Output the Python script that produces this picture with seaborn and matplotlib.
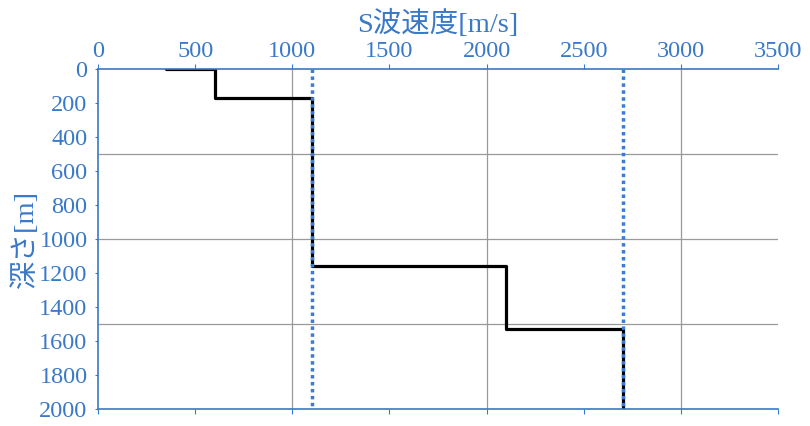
import matplotlib
matplotlib.use("Agg")
import matplotlib.pyplot as plt
import seaborn as sns
import pandas as pd
import numpy as np

# Data
velocity = [350, 600, 600, 1100, 1100, 2100, 2100, 2700, 2700]
depth = [0, 0, 170, 170, 1160, 1160, 1530, 1530, 2000]
ref_velocity = [1100, 2700]
x_ticks = [0, 500, 1000, 1500, 2000, 2500, 3000, 3500]
y_ticks = [0, 200, 400, 600, 800, 1000, 1200, 1400, 1600, 1800, 2000]
x_grid = [1000, 2000, 3000]
y_grid = [500, 1000, 1500]
x_label = "S波速度[m/s]"
y_label = "深さ[m]"

sns.set_style("white")
plt.rcParams['font.family'] = ['Liberation Serif', 'Noto Sans CJK JP']

blue = "#3a78c8"
grid = "#999999"

fig = plt.figure(figsize=(8.1, 4.26), dpi=100)
ax = fig.add_axes([0.121, 0.040, 0.8395, 0.798])

ax.set_xlim(0, 3500)
ax.set_ylim(2000, 0)

# gridlines
ax.vlines(x_grid, 0, 2000, colors=grid, linewidth=0.9, zorder=1)
ax.hlines(y_grid, 0, 3500, colors=grid, linewidth=0.9, zorder=1)

df = pd.DataFrame({"v": velocity, "d": depth})
sns.lineplot(data=df, x="v", y="d", sort=False, estimator=None, color="black",
             linewidth=2.3, ax=ax, zorder=2)
ax.vlines(ref_velocity, 0, 2000, colors="#3a7bd5", linestyles=(0, (1, 1)), linewidth=2.5, zorder=3)

ax.set_xlim(0, 3500)
ax.set_ylim(2000, 0)
ax.grid(False)

ax.set_xticks(x_ticks)
ax.set_yticks(y_ticks)
ax.xaxis.tick_top()
ax.xaxis.set_label_position("top")
ax.tick_params(axis="x", which="major", top=True, bottom=True, labeltop=True, labelbottom=False,
               direction="out", length=3.6, color=blue, labelsize=17.5, labelcolor=blue, pad=1.2)
ax.tick_params(axis="y", which="major", left=True, direction="out", length=2.5, color=blue,
               labelsize=17.5, labelcolor=blue, pad=5)

ax.set_xlabel(x_label, fontsize=20.5, color=blue, labelpad=7)
ax.set_ylabel(y_label, fontsize=20.5, color=blue, labelpad=0)

for s in ["top", "left", "bottom"]:
    ax.spines[s].set_color(blue)
    ax.spines[s].set_linewidth(1.2)
ax.spines["right"].set_visible(False)

fig.savefig("out.png", dpi=100)
